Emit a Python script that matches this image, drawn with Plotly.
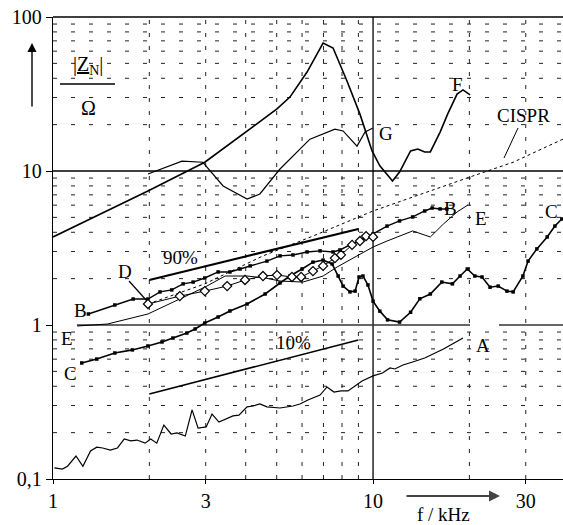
import plotly.graph_objects as go

# ---------------- data ----------------
A_x = [1.01,1.07,1.11,1.18,1.24,1.31,1.37,1.43,1.51,1.59,1.67,1.75,1.83,1.94,2.02,2.11,2.22,2.34,2.44,2.59,
       2.72,2.84,3.01,3.14,3.30,3.65,3.81,4.04,4.22,4.43,4.66,5.12,5.62,5.91,6.26,6.83,7.18,7.55,7.94,8.35,
       9.24,10.0,10.7,11.3,11.7,12.4,13.3,14.5,16.6,19.1]
A_y = [0.118,0.116,0.121,0.141,0.121,0.152,0.161,0.159,0.154,0.159,0.182,0.177,0.179,0.171,0.182,0.171,0.224,0.196,0.199,0.190,
       0.281,0.214,0.218,0.264,0.234,0.257,0.260,0.294,0.298,0.307,0.294,0.289,0.298,0.307,0.326,0.351,0.396,0.367,0.373,0.373,
       0.433,0.467,0.488,0.526,0.518,0.55,0.575,0.61,0.698,0.824]

B_x = [1.29,1.56,1.78,1.98,2.16,2.35,2.55,2.74,2.98,3.28,3.57,3.84,4.13,4.66,5.12,5.62,6.22,6.83,7.50,7.88,
       8.47,9.24,10.0,11.06,12.1,13.3,14.5,15.3,16.2,17.0]
B_y = [1.179,1.349,1.475,1.475,1.64,1.69,1.85,1.90,2.02,2.21,2.21,2.31,2.42,2.60,2.81,2.85,2.98,3.03,2.98,3.07,
       3.31,3.56,3.90,4.39,4.74,5.03,5.50,5.75,5.67,5.67]

C_x = [1.23,1.37,1.56,1.77,1.98,2.19,2.37,2.62,2.78,2.98,3.28,3.57,4.04,4.60,5.12,5.50,6.0,6.49,6.98,7.45,
       7.78,8.06,8.47,8.79,9.04,9.30,9.64,10.0,10.5,11.1,12.1,13.1,14.0,15.1,16.4,17.7,18.7,19.7,20.8,21.9,
       23.2,24.6,26.2,27.4,29.4,30.5,32.5,35.0,37.0,38.9]
C_y = [0.567,0.601,0.658,0.689,0.731,0.776,0.823,0.887,0.942,1.03,1.127,1.233,1.369,1.59,1.874,2.08,2.31,2.56,2.64,2.49,
       2.08,1.79,1.64,1.66,2.05,2.08,1.82,1.43,1.23,1.08,1.045,1.21,1.48,1.59,1.90,1.85,2.08,2.31,2.08,2.05,
       1.76,1.79,1.66,1.64,2.08,2.60,3.12,3.73,4.39,4.88]

D_x = [1.98,2.49,2.98,3.50,3.98,4.53,5.01,5.58,5.96,6.49,6.98,7.60,7.94,8.60,9.10,9.51,10.0]
D_y = [1.369,1.54,1.66,1.79,1.96,2.08,2.11,2.05,2.05,2.24,2.42,2.72,2.85,3.31,3.51,3.78,3.73]

E_x = [1.19,1.48,1.98,2.49,2.98,3.45,4.04,4.60,5.12,6.04,6.98,7.72,9.10,10.0,11.06,13.3,15.1,16.6,18.3,19.8]
E_y = [0.985,1.015,1.179,1.475,1.76,2.08,2.08,2.02,1.93,1.90,2.08,2.38,2.89,3.21,3.51,4.08,3.73,4.53,5.42,6.02]

F_x = [1.0,1.98,2.98,3.98,5.01,5.50,6.22,6.98,7.50,8.29,9.10,9.93,10.5,10.9,11.5,12.1,13.1,13.8,14.5,15.1,
       16.2,17.1,18.3,19.1,20.1]
F_y = [3.73,7.41,11.4,17.9,25.3,30.2,43.9,67.8,62.9,38.4,23.4,13.5,10.8,9.85,8.61,9.85,13.5,13.9,13.3,13.3,
       17.9,23.4,31.6,33.6,31.2]

G_x = [1.98,2.53,2.94,3.40,4.04,4.43,5.12,6.35,7.60,8.06,8.91,9.44,10.0]
G_y = [9.56,11.6,11.4,8.0,6.58,7.09,10.3,16.1,18.7,18.2,14.5,17.9,19.0]

CISPR_x = [1.98,2.98,4.53,6.49,10.0,14.7,20.5,27.4,39.2]
CISPR_y = [1.369,1.85,2.81,3.78,5.50,7.31,9.28,11.4,16.1]

P90_x = [2.0, 9.0]
P90_y = [1.96, 4.2]
P10_x = [2.0, 9.0]
P10_y = [0.356, 0.80]

x_tickvals = [1, 3, 10, 30]
x_ticktext = ["1", "3", "10", "30"]
y_tickvals = [0.1, 1, 10, 100]
y_ticktext = ["0,1", "1", "10", "100"]

grid_x = [2, 3, 4, 5, 6, 7, 8, 9, 20, 30]
grid_y = [0.2, 0.3, 0.4, 0.5, 0.6, 0.7, 0.8, 0.9, 2, 3, 4, 5, 6, 7, 8, 9, 20, 30, 40, 50, 60, 70, 80, 90]

# ---------------- layout helpers ----------------
W, H = 563, 525
L, R, T, B = 53, 0, 17, 46
PW, PH = W - L - R, H - T - B
FONT = "Liberation Serif"

def px(xp):
    return (xp - L) / PW

def py(yp):
    return (H - B - yp) / PH

fig = go.Figure()

def line(x, y, width=1.0, dash="solid", marker=None):
    kw = dict(x=x, y=y, mode="lines", line=dict(color="black", width=width, dash=dash),
              showlegend=False, hoverinfo="skip")
    if marker is not None:
        kw["mode"] = "lines+markers"
        kw["marker"] = marker
    fig.add_trace(go.Scatter(**kw))

line(CISPR_x, CISPR_y, width=1.0, dash="dot")
line(P90_x, P90_y, width=2.2)
line(P10_x, P10_y, width=1.6)
line(A_x, A_y, width=1.2)
line(E_x, E_y, width=1.0)
line(G_x, G_y, width=1.2)
line(F_x, F_y, width=1.6)
line(C_x, C_y, width=1.6, marker=dict(symbol="square", size=3.5, color="black"))
line(B_x, B_y, width=1.4, marker=dict(symbol="square", size=3.5, color="black"))
line(D_x, D_y, width=1.0, marker=dict(symbol="diamond", size=7, color="white",
                                        line=dict(color="black", width=1.2)))

shapes = []
for v in grid_x:
    shapes.append(dict(type="line", xref="x", yref="paper", x0=v, x1=v, y0=0, y1=1,
                       line=dict(color="#222", width=1, dash="4px,9px"), layer="below"))
for v in grid_y:
    shapes.append(dict(type="line", xref="paper", yref="y", x0=0, x1=1, y0=v, y1=v,
                       line=dict(color="#222", width=1, dash="4px,14px"), layer="below"))
# solid reference lines
shapes.append(dict(type="line", xref="paper", yref="y", x0=0, x1=1, y0=10, y1=10,
                   line=dict(color="black", width=1.3), layer="below"))
shapes.append(dict(type="line", xref="x", yref="paper", x0=10, x1=10, y0=0, y1=1,
                   line=dict(color="black", width=1.3), layer="below"))
shapes.append(dict(type="line", xref="paper", yref="y", x0=px(77), x1=px(470), y0=1, y1=1,
                   line=dict(color="#333", width=1.5), layer="below"))
shapes.append(dict(type="line", xref="paper", yref="y", x0=px(499), x1=1, y0=1, y1=1,
                   line=dict(color="#333", width=1.5), layer="below"))
# top border
shapes.append(dict(type="line", xref="paper", yref="paper", x0=0, x1=1, y0=1, y1=1,
                   line=dict(color="black", width=1.3)))
# fraction bar of axis title
shapes.append(dict(type="line", xref="paper", yref="paper", x0=px(60), x1=px(115), y0=py(84), y1=py(84),
                   line=dict(color="black", width=1.3)))
# label pointers
shapes.append(dict(type="line", xref="paper", yref="paper", x0=px(129), x1=px(147), y0=py(281), y1=py(301),
                   line=dict(color="black", width=1.2)))
shapes.append(dict(type="line", xref="paper", yref="paper", x0=px(518), x1=px(504), y0=py(128), y1=py(158),
                   line=dict(color="black", width=1.0)))

annotations = []
def label(text, xp, yp, size=19):
    annotations.append(dict(text=text, x=px(xp), y=py(yp), xref="paper", yref="paper",
                            showarrow=False, font=dict(family=FONT, size=size, color="black"),
                            xanchor="center", yanchor="middle"))

label("A", 483, 345)
label("B", 450, 208)
label("E", 481, 219)
label("C", 551, 211)
label("B", 80, 310)
label("E", 67, 338)
label("C", 70, 373)
label("D", 125, 271)
label("F", 457, 84)
label("G", 386, 133)
label("CISPR", 523, 115)
label("90%", 180, 257)
label("10%", 293, 342)
label("|<u>Z</u><sub>N</sub>|", 88, 65, size=20)
label("Ω", 88, 108, size=20)
label("f / kHz", 443, 514, size=19)

# arrows
annotations.append(dict(x=px(32), y=py(43), xref="paper", yref="paper", ax=0, ay=65,
                        axref="pixel", ayref="pixel", showarrow=True, arrowhead=2, arrowsize=1.3,
                        arrowwidth=1.4, arrowcolor="black", text=""))
annotations.append(dict(x=px(500), y=py(496), xref="paper", yref="paper", ax=-95, ay=0,
                        axref="pixel", ayref="pixel", showarrow=True, arrowhead=2, arrowsize=1.1,
                        arrowwidth=2, arrowcolor="#444", text=""))

fig.update_layout(
    width=W, height=H,
    margin=dict(l=L, r=R, t=T, b=B, pad=0),
    paper_bgcolor="white", plot_bgcolor="white",
    font=dict(family=FONT, size=20, color="black"),
    shapes=shapes, annotations=annotations,
    xaxis=dict(type="log", range=[0, 1.5935], tickvals=x_tickvals, ticktext=x_ticktext,
               showgrid=False, zeroline=False, showline=True, linecolor="black", linewidth=1.3,
               ticks="outside", ticklen=4, tickcolor="black", tickfont=dict(family=FONT, size=20)),
    yaxis=dict(type="log", range=[-1, 2], tickvals=y_tickvals, ticktext=y_ticktext,
               showgrid=False, zeroline=False, showline=True, linecolor="black", linewidth=1.3,
               ticks="outside", ticklen=6, tickcolor="black", tickfont=dict(family=FONT, size=20)),
)

fig.write_html("out.html")
